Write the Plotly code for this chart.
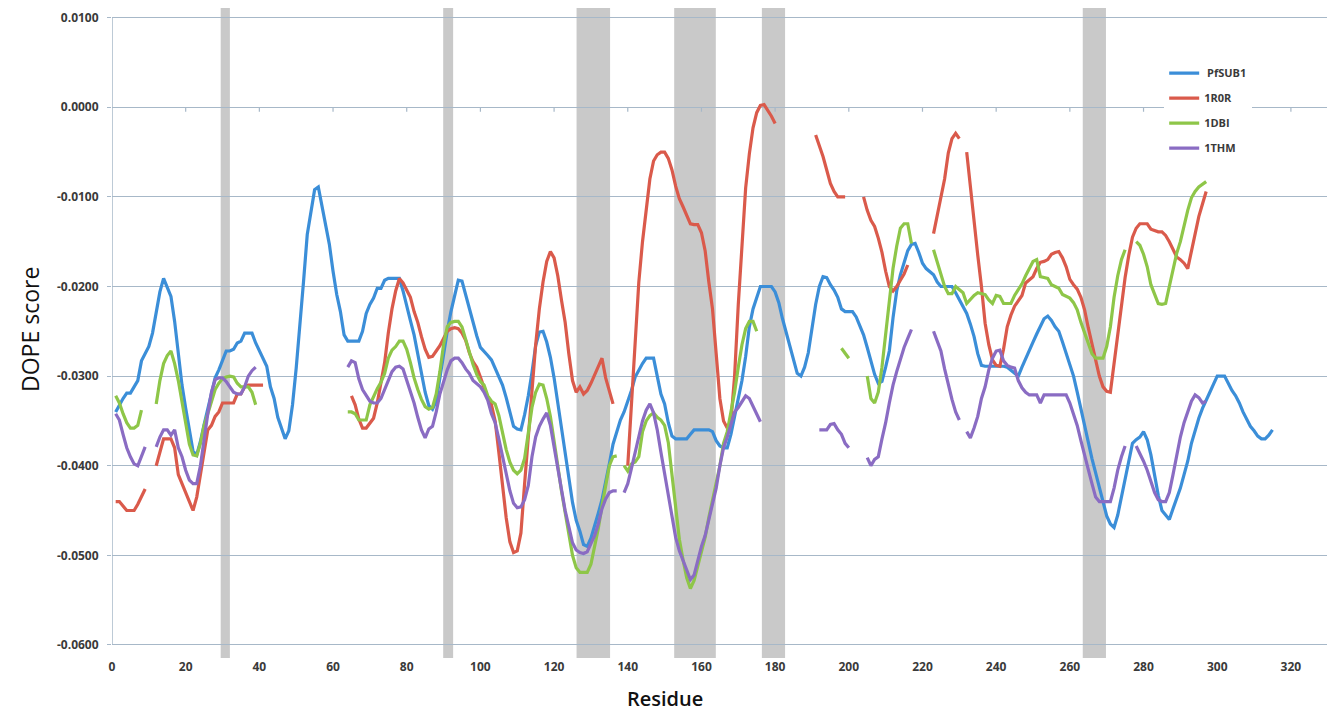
import plotly.graph_objects as go

# ---------------- data ----------------
x_ticks = list(range(0, 321, 20))
y_ticks = [0.01, 0.0, -0.01, -0.02, -0.03, -0.04, -0.05, -0.06]

# grey highlighted residue ranges
band_start = [29.5, 89.9, 126.1, 152.6, 176.4, 263.5]
band_end = [32.0, 92.6, 135.2, 163.9, 182.7, 269.8]

# PfSUB1: one continuous segment starting at residue 1
pfsub1_segments = [
    (1, [-0.0340, -0.0332, -0.0325, -0.0319, -0.0319, -0.0312, -0.0305, -0.0283, -0.0274, -0.0267,
         -0.0252, -0.0228, -0.0206, -0.0191, -0.0200, -0.0211, -0.0239, -0.0277, -0.0310, -0.0336,
         -0.0362, -0.0384, -0.0388, -0.0373, -0.0354, -0.0336, -0.0317, -0.0302, -0.0293, -0.0283,
         -0.0272, -0.0272, -0.0270, -0.0263, -0.0261, -0.0252, -0.0252, -0.0252, -0.0263, -0.0272,
         -0.0280, -0.0289, -0.0312, -0.0325, -0.0346, -0.0357, -0.0370, -0.0361, -0.0332, -0.0291,
         -0.0246, -0.0194, -0.0142, -0.0116, -0.0092, -0.0089, -0.0109, -0.0129, -0.0153, -0.0183,
         -0.0209, -0.0228, -0.0254, -0.0261, -0.0261, -0.0261, -0.0261, -0.0250, -0.0230, -0.0220,
         -0.0213, -0.0202, -0.0202, -0.0193, -0.0191, -0.0191, -0.0191, -0.0191, -0.0205, -0.0220,
         -0.0238, -0.0254, -0.0275, -0.0294, -0.0318, -0.0333, -0.0337, -0.0328, -0.0302, -0.0272,
         -0.0250, -0.0228, -0.0209, -0.0193, -0.0194, -0.0209, -0.0226, -0.0242, -0.0255, -0.0268,
         -0.0272, -0.0277, -0.0282, -0.0292, -0.0301, -0.0310, -0.0324, -0.0342, -0.0356, -0.0359,
         -0.0360, -0.0343, -0.0322, -0.0296, -0.0266, -0.0251, -0.0250, -0.0262, -0.0279, -0.0302,
         -0.0330, -0.0357, -0.0386, -0.0415, -0.0441, -0.0461, -0.0473, -0.0488, -0.0490, -0.0481,
         -0.0468, -0.0453, -0.0438, -0.0420, -0.0398, -0.0376, -0.0361, -0.0349, -0.0340, -0.0329,
         -0.0316, -0.0301, -0.0293, -0.0286, -0.0280, -0.0280, -0.0280, -0.0300, -0.0320, -0.0331,
         -0.0352, -0.0367, -0.0370, -0.0370, -0.0370, -0.0370, -0.0365, -0.0360, -0.0360, -0.0360,
         -0.0360, -0.0360, -0.0362, -0.0372, -0.0378, -0.0380, -0.0380, -0.0365, -0.0345, -0.0325,
         -0.0305, -0.0278, -0.0245, -0.0225, -0.0211, -0.0200, -0.0200, -0.0200, -0.0200, -0.0206,
         -0.0218, -0.0236, -0.0252, -0.0267, -0.0282, -0.0297, -0.0300, -0.0290, -0.0274, -0.0245,
         -0.0220, -0.0200, -0.0189, -0.0190, -0.0198, -0.0204, -0.0212, -0.0225, -0.0228, -0.0228,
         -0.0228, -0.0234, -0.0245, -0.0254, -0.0268, -0.0283, -0.0298, -0.0308, -0.0306, -0.0290,
         -0.0272, -0.0235, -0.0205, -0.0187, -0.0172, -0.0160, -0.0153, -0.0152, -0.0162, -0.0174,
         -0.0180, -0.0183, -0.0187, -0.0195, -0.0200, -0.0200, -0.0200, -0.0200, -0.0207, -0.0215,
         -0.0222, -0.0230, -0.0242, -0.0256, -0.0275, -0.0288, -0.0289, -0.0289, -0.0289, -0.0289,
         -0.0289, -0.0289, -0.0290, -0.0293, -0.0296, -0.0300, -0.0290, -0.0280, -0.0271, -0.0262,
         -0.0253, -0.0244, -0.0236, -0.0233, -0.0238, -0.0245, -0.0250, -0.0262, -0.0274, -0.0287,
         -0.0300, -0.0318, -0.0337, -0.0356, -0.0375, -0.0392, -0.0408, -0.0425, -0.0441, -0.0456,
         -0.0465, -0.0469, -0.0455, -0.0435, -0.0415, -0.0393, -0.0375, -0.0371, -0.0368, -0.0362,
         -0.0371, -0.0388, -0.0413, -0.0433, -0.0450, -0.0455, -0.0460, -0.0448, -0.0437, -0.0425,
         -0.0410, -0.0395, -0.0375, -0.0360, -0.0347, -0.0336, -0.0326, -0.0318, -0.0309, -0.0300,
         -0.0300, -0.0300, -0.0308, -0.0316, -0.0322, -0.0330, -0.0340, -0.0349, -0.0356, -0.0361,
         -0.0367, -0.0370, -0.0370, -0.0366, -0.0360]),
]

r0r_segments = [
    (1, [-0.0440, -0.0440, -0.0445, -0.0450, -0.0450, -0.0450, -0.0443, -0.0435, -0.0426]),
    (12, [-0.0400, -0.0386, -0.0370, -0.0370, -0.0370, -0.0380, -0.0410, -0.0420, -0.0430, -0.0440,
          -0.0450, -0.0435, -0.0410, -0.0380, -0.0360, -0.0355, -0.0345, -0.0340, -0.0330, -0.0330,
          -0.0330, -0.0330, -0.0320, -0.0320, -0.0312, -0.0310, -0.0310, -0.0310, -0.0310, -0.0310]),
    (65, [-0.0322, -0.0332, -0.0348, -0.0358, -0.0358, -0.0352, -0.0347, -0.0330, -0.0305, -0.0285,
          -0.0252, -0.0225, -0.0205, -0.0191, -0.0196, -0.0204, -0.0212, -0.0228, -0.0240, -0.0256,
          -0.0270, -0.0279, -0.0278, -0.0272, -0.0266, -0.0258, -0.0250, -0.0247, -0.0246, -0.0247,
          -0.0252, -0.0260, -0.0274, -0.0284, -0.0290, -0.0301, -0.0312, -0.0325, -0.0332, -0.0350,
          -0.0385, -0.0425, -0.0458, -0.0485, -0.0497, -0.0495, -0.0475, -0.0420, -0.0365, -0.0310,
          -0.0265, -0.0225, -0.0195, -0.0172, -0.0161, -0.0168, -0.0188, -0.0215, -0.0240, -0.0275,
          -0.0305, -0.0318, -0.0312, -0.0320, -0.0316, -0.0308, -0.0298, -0.0288, -0.0280, -0.0302,
          -0.0318, -0.0331]),
    (140, [-0.0400, -0.0330, -0.0255, -0.0195, -0.0150, -0.0115, -0.0080, -0.0060, -0.0053, -0.0050,
           -0.0050, -0.0057, -0.0070, -0.0088, -0.0102, -0.0111, -0.0120, -0.0130, -0.0131, -0.0131,
           -0.0140, -0.0160, -0.0195, -0.0225, -0.0275, -0.0325, -0.0350, -0.0358, -0.0350, -0.0300,
           -0.0220, -0.0150, -0.0090, -0.0052, -0.0023, -0.0006, 0.0002, 0.0003, -0.0003, -0.0010,
           -0.0018]),
    (191, [-0.0031, -0.0043, -0.0055, -0.0070, -0.0085, -0.0094, -0.0100, -0.0100, -0.0100]),
    (204, [-0.0100, -0.0115, -0.0126, -0.0133, -0.0146, -0.0162, -0.0183, -0.0200, -0.0205, -0.0200,
           -0.0193, -0.0186, -0.0176]),
    (223, [-0.0141, -0.0120, -0.0100, -0.0080, -0.0051, -0.0035, -0.0029, -0.0035]),
    (232, [-0.0050, -0.0090, -0.0125, -0.0165, -0.0200, -0.0241, -0.0265, -0.0282, -0.0288, -0.0289,
           -0.0270, -0.0245, -0.0232, -0.0222, -0.0216, -0.0210, -0.0196, -0.0192, -0.0189, -0.0180,
           -0.0173, -0.0172, -0.0170, -0.0164, -0.0162, -0.0161, -0.0168, -0.0178, -0.0192, -0.0198,
           -0.0203, -0.0212, -0.0226, -0.0246, -0.0265, -0.0284, -0.0300, -0.0312, -0.0317, -0.0318,
           -0.0285, -0.0255, -0.0220, -0.0190, -0.0165, -0.0145, -0.0135, -0.0130, -0.0130, -0.0130,
           -0.0136, -0.0138, -0.0139, -0.0139, -0.0143, -0.0150, -0.0158, -0.0167, -0.0170, -0.0174,
           -0.0180, -0.0160, -0.0140, -0.0122, -0.0108, -0.0094]),
]

dbi_segments = [
    (1, [-0.0322, -0.0330, -0.0342, -0.0352, -0.0358, -0.0358, -0.0355, -0.0338]),
    (12, [-0.0331, -0.0305, -0.0286, -0.0277, -0.0272, -0.0286, -0.0305, -0.0330, -0.0355, -0.0376,
          -0.0388, -0.0389, -0.0375, -0.0355, -0.0342, -0.0328, -0.0315, -0.0308, -0.0303, -0.0301,
          -0.0300, -0.0301, -0.0308, -0.0312, -0.0312, -0.0312, -0.0318, -0.0332]),
    (64, [-0.0340, -0.0340, -0.0342, -0.0349, -0.0349, -0.0349, -0.0332, -0.0322, -0.0314, -0.0307,
          -0.0297, -0.0280, -0.0271, -0.0267, -0.0261, -0.0261, -0.0270, -0.0285, -0.0302, -0.0315,
          -0.0326, -0.0334, -0.0337, -0.0335, -0.0320, -0.0295, -0.0265, -0.0245, -0.0240, -0.0239,
          -0.0239, -0.0245, -0.0260, -0.0275, -0.0287, -0.0298, -0.0306, -0.0310, -0.0322, -0.0328,
          -0.0331, -0.0344, -0.0362, -0.0382, -0.0396, -0.0405, -0.0409, -0.0405, -0.0392, -0.0365,
          -0.0335, -0.0318, -0.0309, -0.0310, -0.0325, -0.0345, -0.0370, -0.0400, -0.0428, -0.0452,
          -0.0478, -0.0500, -0.0514, -0.0519, -0.0519, -0.0519, -0.0510, -0.0492, -0.0470, -0.0445,
          -0.0420, -0.0400, -0.0390, -0.0389]),
    (139, [-0.0400, -0.0406, -0.0398, -0.0396, -0.0390, -0.0362, -0.0350, -0.0344, -0.0341, -0.0346,
           -0.0349, -0.0355, -0.0374, -0.0412, -0.0448, -0.0482, -0.0505, -0.0525, -0.0537, -0.0528,
           -0.0512, -0.0497, -0.0480, -0.0458, -0.0440, -0.0420, -0.0400, -0.0375, -0.0362, -0.0340,
           -0.0318, -0.0290, -0.0265, -0.0247, -0.0239, -0.0239, -0.0250]),
    (198, [-0.0269, -0.0275, -0.0280]),
    (205, [-0.0300, -0.0325, -0.0330, -0.0318, -0.0290, -0.0255, -0.0215, -0.0180, -0.0155, -0.0135,
           -0.0130, -0.0130, -0.0152]),
    (223, [-0.0159, -0.0172, -0.0186, -0.0200, -0.0208, -0.0208, -0.0200, -0.0203, -0.0207, -0.0219,
           -0.0214, -0.0210, -0.0207, -0.0208, -0.0209, -0.0215, -0.0219, -0.0210, -0.0211, -0.0219,
           -0.0219, -0.0219, -0.0210, -0.0204, -0.0197, -0.0188, -0.0180, -0.0172, -0.0170, -0.0189,
           -0.0190, -0.0191, -0.0198, -0.0200, -0.0202, -0.0209, -0.0211, -0.0213, -0.0218, -0.0226,
           -0.0240, -0.0252, -0.0265, -0.0275, -0.0280, -0.0280, -0.0280, -0.0267, -0.0245, -0.0212,
           -0.0188, -0.0170, -0.0159]),
    (278, [-0.0150, -0.0154, -0.0164, -0.0178, -0.0198, -0.0208, -0.0219, -0.0220, -0.0219, -0.0200,
           -0.0180, -0.0163, -0.0150, -0.0132, -0.0115, -0.0101, -0.0094, -0.0089, -0.0086, -0.0083]),
]

thm_segments = [
    (1, [-0.0342, -0.0349, -0.0365, -0.0380, -0.0390, -0.0398, -0.0400, -0.0390, -0.0379]),
    (12, [-0.0379, -0.0368, -0.0360, -0.0360, -0.0366, -0.0360, -0.0380, -0.0390, -0.0405, -0.0416,
          -0.0420, -0.0420, -0.0400, -0.0370, -0.0342, -0.0318, -0.0304, -0.0302, -0.0302, -0.0306,
          -0.0312, -0.0318, -0.0320, -0.0320, -0.0312, -0.0300, -0.0294, -0.0290]),
    (64, [-0.0290, -0.0283, -0.0285, -0.0303, -0.0315, -0.0322, -0.0328, -0.0330, -0.0330, -0.0325,
          -0.0315, -0.0306, -0.0295, -0.0290, -0.0289, -0.0292, -0.0305, -0.0318, -0.0330, -0.0346,
          -0.0360, -0.0369, -0.0359, -0.0356, -0.0340, -0.0320, -0.0305, -0.0293, -0.0283, -0.0280,
          -0.0280, -0.0285, -0.0292, -0.0297, -0.0305, -0.0309, -0.0312, -0.0318, -0.0327, -0.0342,
          -0.0352, -0.0370, -0.0389, -0.0412, -0.0428, -0.0442, -0.0447, -0.0446, -0.0438, -0.0422,
          -0.0390, -0.0368, -0.0356, -0.0348, -0.0341, -0.0355, -0.0380, -0.0400, -0.0425, -0.0450,
          -0.0468, -0.0486, -0.0494, -0.0497, -0.0498, -0.0496, -0.0487, -0.0478, -0.0465, -0.0448,
          -0.0437, -0.0430, -0.0428, -0.0428]),
    (139, [-0.0430, -0.0420, -0.0403, -0.0385, -0.0365, -0.0350, -0.0338, -0.0331, -0.0341, -0.0360,
           -0.0385, -0.0410, -0.0433, -0.0460, -0.0480, -0.0495, -0.0506, -0.0518, -0.0527, -0.0522,
           -0.0505, -0.0490, -0.0478, -0.0460, -0.0445, -0.0425, -0.0400, -0.0380, -0.0368, -0.0355,
           -0.0340, -0.0335, -0.0328, -0.0322, -0.0325, -0.0334, -0.0343, -0.0351]),
    (192, [-0.0360, -0.0360, -0.0360, -0.0354, -0.0353, -0.0360, -0.0365, -0.0375, -0.0380]),
    (205, [-0.0391, -0.0400, -0.0393, -0.0390, -0.0370, -0.0352, -0.0330, -0.0310, -0.0295, -0.0280,
           -0.0268, -0.0258, -0.0248]),
    (223, [-0.0250, -0.0262, -0.0272, -0.0292, -0.0310, -0.0326, -0.0340, -0.0349]),
    (232, [-0.0362, -0.0369, -0.0358, -0.0345, -0.0325, -0.0312, -0.0293, -0.0280, -0.0272, -0.0271,
           -0.0283, -0.0288, -0.0290, -0.0291, -0.0305, -0.0313, -0.0318, -0.0321, -0.0321, -0.0321,
           -0.0330, -0.0321, -0.0321, -0.0321, -0.0321, -0.0321, -0.0321, -0.0321, -0.0330, -0.0343,
           -0.0355, -0.0372, -0.0390, -0.0404, -0.0420, -0.0435, -0.0440, -0.0440, -0.0440, -0.0440,
           -0.0425, -0.0405, -0.0390, -0.0378]),
    (278, [-0.0378, -0.0386, -0.0395, -0.0405, -0.0418, -0.0430, -0.0438, -0.0440, -0.0440, -0.0430,
           -0.0410, -0.0388, -0.0368, -0.0352, -0.0340, -0.0328, -0.0321, -0.0324, -0.0330, -0.0328]),
]

series_names = ["\u00a0PfSUB1", "1R0R", "1DBI", "1THM"]
series_colors = ["#3B8ED8", "#DA5A4B", "#8EC648", "#8A6CC3"]
series_data = [pfsub1_segments, r0r_segments, dbi_segments, thm_segments]


def build_xy(segments):
    xs, ys = [], []
    for start, vals in segments:
        if xs:
            xs.append(None)
            ys.append(None)
        xs.extend(range(start, start + len(vals)))
        ys.extend(vals)
    return xs, ys


grid_color = "#A7B8C8"
tick_font = dict(family="Open Sans", size=12, color="#3A3A3A", weight="bold")

fig = go.Figure()
for i, (name, color, segs) in enumerate(zip(series_names, series_colors, series_data)):
    xs, ys = build_xy(segs)
    fig.add_trace(go.Scatter(
        x=xs, y=ys, mode="lines", name=name, legendgroup=f"g{i}",
        line=dict(color=color, width=3.2), connectgaps=False, hoverinfo="skip",
    ))

shapes = []
for b0, b1 in zip(band_start, band_end):
    shapes.append(dict(type="rect", xref="x", yref="paper", x0=b0, x1=b1, y0=0, y1=1,
                       fillcolor="#C9C9C9", line=dict(width=0), layer="below"))
# vertical axis line
shapes.append(dict(type="line", xref="x", yref="y", x0=0, x1=0, y0=y_ticks[-1], y1=y_ticks[0],
                   line=dict(color=grid_color, width=1.5), layer="below"))
# small tick marks on the zero line (axis crossing)
for t in x_ticks[1:]:
    shapes.append(dict(type="line", xref="x", yref="y", x0=t, x1=t, y0=0, y1=-0.0005,
                       line=dict(color=grid_color, width=1.2), layer="below"))

fig.update_layout(
    width=1327, height=714,
    margin=dict(l=112, r=0, t=8, b=56),
    paper_bgcolor="white", plot_bgcolor="white",
    showlegend=True,
    legend=dict(x=0.866, y=0.922, xanchor="left", yanchor="top", bgcolor="white",
                font=dict(family="Open Sans", size=11, color="#3A3A3A", weight="bold"),
                tracegroupgap=6, itemwidth=30),
    shapes=shapes,
    annotations=[
        dict(text="Residue", xref="paper", yref="paper", x=(665 - 112) / 1215, y=0,
             yshift=-40, xanchor="center", yanchor="middle", showarrow=False,
             font=dict(family="Open Sans", size=20, color="#111111", weight=600)),
        dict(text="DOPE score", xref="paper", yref="paper", x=0, y=(658 - 330) / 650,
             xshift=-82, xanchor="center", yanchor="middle", showarrow=False, textangle=-90,
             font=dict(family="Open Sans", size=23, color="#111111")),
    ],
)
fig.update_xaxes(range=[0, 329.8], tickvals=x_ticks, ticktext=[str(t) for t in x_ticks],
                 showgrid=False, zeroline=False, showline=False, ticks="",
                 tickfont=tick_font, fixedrange=True)
fig.update_yaxes(range=[-0.06146, 0.01108], tickvals=y_ticks,
                 ticktext=[f"{v:.4f}" for v in y_ticks],
                 showgrid=True, gridcolor=grid_color, gridwidth=1.3, zeroline=False,
                 showline=False, ticks="outside", ticklen=4, tickcolor=grid_color,
                 ticklabelstandoff=6, tickfont=tick_font, fixedrange=True)

fig.write_html("out.html")
